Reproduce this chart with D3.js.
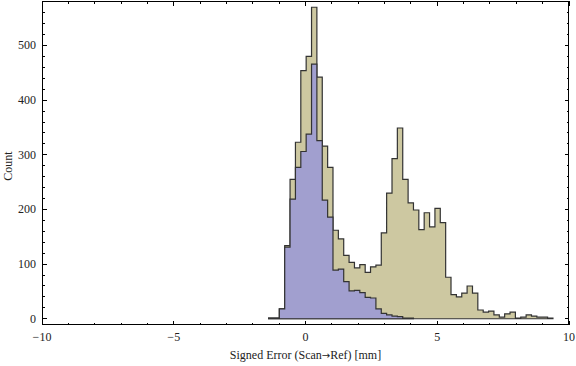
<!DOCTYPE html>
<html><head><meta charset="utf-8">
<script src="https://cdn.jsdelivr.net/npm/d3@7"></script>
<style>
html,body{margin:0;padding:0;background:#fff;}
svg{display:block;}
text{font-family:"Liberation Serif","Times New Roman",serif;fill:#222;}
</style></head>
<body>
<svg id="chart" width="576" height="366"></svg>
<script>
// Bin edges (mm)
const binEdges = [-1.400,-1.196,-0.993,-0.789,-0.586,-0.382,-0.178,0.025,0.229,0.432,
  0.636,0.840,1.043,1.247,1.450,1.654,1.858,2.061,2.265,2.468,
  2.672,2.876,3.079,3.283,3.486,3.690,3.894,4.097,4.301,4.504,
  4.708,4.912,5.115,5.319,5.522,5.726,5.930,6.133,6.337,6.540,
  6.744,6.948,7.151,7.355,7.558,7.762,7.966,8.169,8.373,8.576,
  8.780,8.984,9.187,9.391];
// Counts of all points (tan)
const countsAll = [1,1,18,134,255,323,454,480,570,442,
  316,277,162,146,116,103,93,99,85,95,
  98,157,230,293,349,255,212,199,163,194,
  168,202,176,76,44,40,47,60,47,16,
  12,14,7,3,9,12,1,3,7,5,
  3,3,1];
// Counts of subset (blue)
const countsSubset = [1,1,18,131,219,277,306,338,466,326,
  217,186,89,91,68,51,52,48,39,38,
  18,10,7,5,4,1,1,0,0,0,
  0,0,0,0,0,0,0,0,0,0,
  0,0,0,0,0,0,0,0,0,0,
  0,0,0];
const xMajorTicks = [-10,-5,0,5,10];
const xMinorTicks = [-9,-8,-7,-6,-4,-3,-2,-1,1,2,3,4,6,7,8,9];
const yMajorTicks = [0,100,200,300,400,500];
const yMinorTicks = [20,40,60,80,120,140,160,180,220,240,260,280,320,340,360,380,420,440,460,480,520,540,560,580];
const xTitleParts = ["Signed Error (Scan", "\u2192", "Ref) [mm]"];
const yTitle = "Count";

const svg = d3.select("#chart");
const L = 42, R = 569, T = 1, B = 325;
const x = d3.scaleLinear().domain([-10,10]).range([L,R]);
const y = d3.scaleLinear().domain([-11.4,581.4]).range([B,T]);

function stepPath(counts){
  let n = counts.length;
  while(n>0 && counts[n-1]===0) n--;
  const pts = [[binEdges[0],0]];
  for(let i=0;i<n;i++){
    pts.push([binEdges[i],counts[i]]);
    pts.push([binEdges[i+1],counts[i]]);
  }
  pts.push([binEdges[n],0]);
  return d3.line().x(d=>x(d[0])).y(d=>y(d[1]))(pts)+"Z";
}

svg.append("path").attr("d",stepPath(countsAll))
  .attr("fill","#cdc8a1").attr("stroke","#333").attr("stroke-width",1.2).attr("stroke-linejoin","miter");
svg.append("path").attr("d",stepPath(countsSubset))
  .attr("fill","#a19fcf").attr("stroke","#333").attr("stroke-width",1.2).attr("stroke-linejoin","miter");

// frame
const g = svg.append("g").attr("shape-rendering","crispEdges");
g.append("rect").attr("x",L+0.5).attr("y",T+0.5).attr("width",R-L-1).attr("height",B-T-1)
  .attr("fill","none").attr("stroke","#000").attr("stroke-width",1);

const majL = 4.5, minL = 2.5;
function xt(v,len){
  g.append("line").attr("x1",x(v)).attr("x2",x(v)).attr("y1",B).attr("y2",B-len).attr("stroke","#000");
  g.append("line").attr("x1",x(v)).attr("x2",x(v)).attr("y1",T).attr("y2",T+len).attr("stroke","#000");
}
function yt(v,len){
  g.append("line").attr("x1",L).attr("x2",L+len).attr("y1",y(v)).attr("y2",y(v)).attr("stroke","#000");
  g.append("line").attr("x1",R).attr("x2",R-len).attr("y1",y(v)).attr("y2",y(v)).attr("stroke","#000");
}
xMajorTicks.forEach(v=>xt(v,majL));
xMinorTicks.forEach(v=>xt(v,minL));
yMajorTicks.forEach(v=>yt(v,majL));
yMinorTicks.forEach(v=>yt(v,minL));

const fmt = v => v<0 ? "\u2212"+Math.abs(v) : String(v);
svg.selectAll(".xl").data(xMajorTicks).enter().append("text")
  .attr("x",d=>x(d)).attr("y",341).attr("text-anchor","middle").attr("font-size",12).text(fmt);
svg.selectAll(".yl").data(yMajorTicks).enter().append("text")
  .attr("x",36).attr("y",d=>y(d)+4).attr("text-anchor","end").attr("font-size",12).text(fmt);

const xt2 = svg.append("text").attr("x",(L+R)/2).attr("y",359).attr("text-anchor","middle").attr("font-size",12);
xt2.append("tspan").text(xTitleParts[0]);
xt2.append("tspan").attr("font-family","DejaVu Sans").attr("font-size",10).text(xTitleParts[1]);
xt2.append("tspan").text(xTitleParts[2]);
svg.append("text").attr("transform","translate(12,166) rotate(-90)").attr("text-anchor","middle").attr("font-size",12).text(yTitle);
</script>
</body></html>
